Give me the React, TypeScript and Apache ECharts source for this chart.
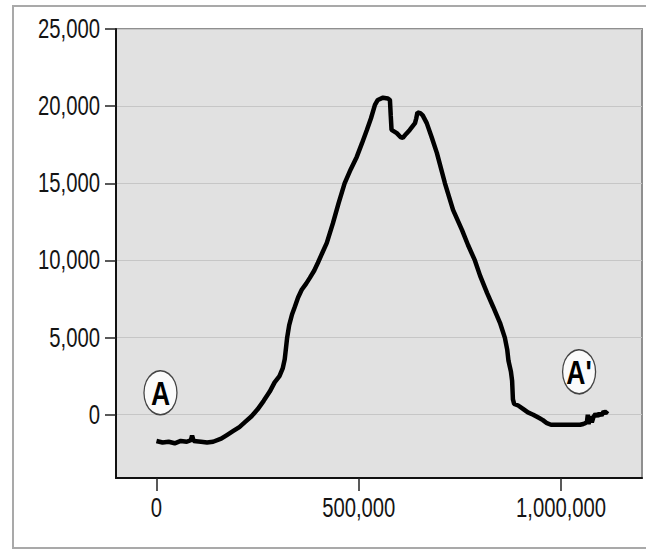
import React, { useEffect, useRef } from "react";
import * as echarts from "echarts";

const distance = [
  0, 15000, 30000, 45000, 60000, 75000, 85000, 88000, 92000, 110000, 125000, 140000,
  160000, 175000, 190000, 205000, 220000, 235000, 250000, 265000, 280000, 292000,
  304000, 312000, 317000, 320000, 323000, 328000, 335000, 342000, 350000, 359000,
  370000, 379000, 390000, 399000, 410000, 421000, 436000, 450000, 465000, 480000,
  495000, 508000, 520000, 530000, 540000, 547000, 560000, 572000, 577000, 579000,
  581000, 594000, 603000, 609000, 617000, 626000, 639000, 642000, 645000, 652000,
  658000, 668000, 680000, 693000, 713000, 733000, 755000, 770000, 787000, 800000,
  817000, 832000, 849000, 861000, 867000, 870000, 876000, 879000, 881000, 884000,
  894000, 905000, 918000, 931000, 945000, 955000, 965000, 975000, 1000000, 1020000,
  1047000, 1055000, 1060000, 1064000, 1066000, 1068000, 1072000, 1076000, 1080000,
  1085000, 1090000, 1095000, 1100000, 1105000, 1110000, 1115000,
];
const elevation = [
  -1700, -1800, -1750, -1850, -1700, -1750, -1650, -1350, -1700, -1750, -1800, -1750,
  -1550, -1300, -1050, -800, -450, -100, 350, 900, 1500, 2100,
  2500, 3000, 3600, 4300, 5000, 5800, 6500, 7000, 7600, 8100,
  8500, 8870, 9350, 9850, 10500, 11140, 12400, 13700, 15000, 15900,
  16710, 17600, 18460, 19200, 20080, 20400, 20550, 20500, 20400, 19400,
  18460, 18250, 18000, 17950, 18200, 18460, 18900, 19200, 19600, 19550,
  19400, 18900, 18000, 16970, 15000, 13280, 11980, 11000, 10000, 9000,
  7900, 7000, 5960, 5000, 4200, 3500, 2800, 2200, 1000, 700,
  600, 400, 150, 0, -200, -350, -550, -650, -650, -650,
  -650, -600, -550, -450, 0, -600, -100, -500, -150,
  50, -100, 100, -50, 200, 100, 250,
];
const yTicks = [0, 5000, 10000, 15000, 20000, 25000];
const xTicks = [0, 500000, 1000000];
const markerNames = ["A", "A'"];
const markerX = [9900, 1044500];
const markerY = [1425, 2785];

const FONT = "'Liberation Sans Narrow', 'Arial Narrow', 'Liberation Sans', Arial, sans-serif";
const fmt = (v: number) => Math.round(v).toLocaleString("en-US");

export default function App() {
  const ref = useRef<HTMLDivElement>(null);
  useEffect(() => {
    document.body.style.margin = "0";
    const el = ref.current!;
    const chart = echarts.init(el, null, { renderer: "svg" });
    const lineData = distance.map((d, i) => [d, elevation[i]]);
    chart.setOption({
      animation: false,
      backgroundColor: "#ffffff",
      graphic: [
        {
          type: "rect",
          shape: { x: 13, y: 6, width: 640, height: 542 },
          style: { fill: "none", stroke: "#a9a9a9", lineWidth: 2 },
          z: -1,
        },
      ],
      grid: {
        left: 116,
        top: 29,
        right: 4,
        bottom: 71,
        show: true,
        backgroundColor: "#e1e1e1",
        borderColor: "#8f8f8f",
        borderWidth: 2,
      },
      xAxis: {
        type: "value",
        min: -100000,
        max: 1200000,
        axisLine: { show: true, onZero: false, lineStyle: { color: "#111", width: 2 } },
        axisTick: { show: true, length: 13, customValues: xTicks, lineStyle: { color: "#222", width: 1.5 } },
        axisLabel: {
          customValues: xTicks,
          formatter: fmt,
          margin: 16,
          fontFamily: FONT,
          fontSize: 27,
          color: "#141414",
        },
        splitLine: { show: false },
      },
      yAxis: {
        type: "value",
        min: -4100,
        max: 25000,
        splitNumber: 5,
        axisLine: { show: true, onZero: false, lineStyle: { color: "#111", width: 2 } },
        axisTick: { show: true, length: 11, customValues: yTicks, lineStyle: { color: "#222", width: 1.5 } },
        axisLabel: {
          customValues: yTicks,
          formatter: fmt,
          margin: 16,
          fontFamily: FONT,
          fontSize: 27,
          color: "#141414",
        },
        splitLine: { show: true, lineStyle: { color: "#c6c6c6", width: 1 } },
      },
      series: [
        {
          type: "line",
          data: lineData,
          showSymbol: false,
          lineStyle: { color: "#000", width: 4.5 },
          markPoint: {
            symbol: "circle",
            symbolSize: [33, 44],
            itemStyle: { color: "#fbfbfb", borderColor: "#444", borderWidth: 1.5 },
            label: {
              show: true,
              position: "inside",
              fontFamily: FONT,
              fontWeight: "bold",
              fontSize: 34,
              color: "#000",
              formatter: (p: any) => p.name,
            },
            data: markerNames.map((n, i) => ({ name: n, coord: [markerX[i], markerY[i]] })),
          },
        },
      ],
    });

    const squeeze = () => {
      el.querySelectorAll("text").forEach((t: any) => {
        const s = t.textContent || "";
        let f = 0;
        if (/^[\d,]+$/.test(s)) f = 0.75;
        else if (s === "A" || s === "A'") f = 0.78;
        if (!f || t.getAttribute("data-sq")) return;
        const len = t.getComputedTextLength();
        if (!len) return;
        t.setAttribute("textLength", String(len * f));
        t.setAttribute("lengthAdjust", "spacingAndGlyphs");
        t.setAttribute("data-sq", "1");
      });
    };
    chart.on("finished", squeeze);
    squeeze();
    const timer = setTimeout(squeeze, 0);
    const raf = requestAnimationFrame(squeeze);
    return () => {
      clearTimeout(timer);
      cancelAnimationFrame(raf);
      chart.dispose();
    };
  }, []);
  return <div ref={ref} style={{ width: 646, height: 549 }} />;
}
